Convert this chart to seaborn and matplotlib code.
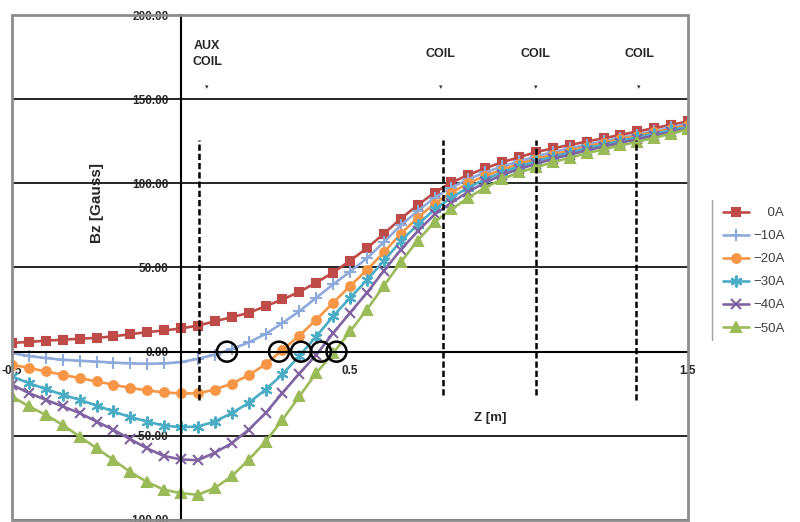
import matplotlib
matplotlib.use("Agg")
import matplotlib.pyplot as plt
from matplotlib.lines import Line2D
from matplotlib.patches import Rectangle
from matplotlib.ticker import FormatStrFormatter
import seaborn as sns

# axial position along the magnet [m]
z_m = [-0.50, -0.45, -0.40, -0.35, -0.30, -0.25, -0.20, -0.15, -0.10, -0.05,
       0.00, 0.05, 0.10, 0.15, 0.20, 0.25, 0.30, 0.35, 0.40, 0.45,
       0.50, 0.55, 0.60, 0.65, 0.70, 0.75, 0.80, 0.85, 0.90, 0.95,
       1.00, 1.05, 1.10, 1.15, 1.20, 1.25, 1.30, 1.35, 1.40, 1.45, 1.50]

# Bz [Gauss] for each aux coil current
bz_0a = [5.2, 5.8, 6.5, 7.1, 7.7, 8.2, 9.1, 10.4, 11.6, 12.6,
         13.8, 15.5, 18.0, 20.5, 23.0, 27.0, 31.0, 35.5, 41.0, 47.0,
         54.0, 61.5, 70.0, 79.0, 87.0, 94.5, 100.5, 105.0, 109.0, 112.5,
         115.5, 118.5, 120.8, 122.8, 124.8, 126.8, 128.8, 130.8, 132.8, 134.8, 136.8]
bz_10a = [-0.8, -2.6, -3.8, -4.8, -5.4, -5.9, -6.5, -7.0, -7.2, -7.0,
          -6.2, -4.2, -1.8, 1.5, 5.5, 10.5, 17.0, 24.0, 32.0, 40.0,
          47.5, 55.5, 65.0, 75.0, 83.5, 91.5, 97.5, 102.5, 106.5, 110.0,
          113.0, 116.0, 118.5, 120.8, 122.9, 125.0, 127.0, 129.0, 131.0, 133.2, 135.5]
bz_20a = [-7.7, -9.7, -11.7, -13.7, -15.7, -17.7, -19.6, -21.6, -23.0, -24.2,
          -24.8, -24.8, -22.5, -19.0, -14.0, -7.5, 1.0, 9.5, 19.0, 29.0,
          39.0, 48.5, 59.0, 70.0, 79.5, 88.0, 94.5, 100.0, 104.5, 108.0,
          111.5, 114.5, 117.0, 119.5, 121.8, 124.0, 126.2, 128.3, 130.3, 132.4, 134.5]
bz_30a = [-14.7, -18.7, -22.2, -25.6, -28.6, -32.0, -35.5, -38.9, -41.5, -44.0,
          -44.8, -44.5, -41.5, -36.5, -30.5, -22.5, -13.5, -2.5, 9.0, 21.0,
          32.0, 42.5, 54.0, 65.5, 75.5, 84.5, 91.5, 97.5, 102.5, 106.5,
          110.0, 113.0, 115.8, 118.3, 120.7, 123.0, 125.2, 127.3, 129.4, 131.5, 133.5]
bz_40a = [-19.6, -24.6, -28.6, -32.5, -36.5, -41.5, -46.4, -52.0, -57.5, -62.0,
          -64.0, -64.5, -60.0, -54.4, -46.4, -36.5, -24.6, -13.0, -2.0, 11.0,
          23.0, 35.0, 48.0, 60.5, 71.5, 81.5, 88.5, 95.0, 100.5, 105.0,
          108.5, 111.5, 114.5, 117.0, 119.5, 121.8, 124.0, 126.2, 128.3, 130.4, 132.5]
bz_50a = [-26.6, -32.5, -37.5, -43.5, -50.4, -57.3, -64.3, -71.5, -77.5, -82.0,
          -84.1, -85.0, -81.0, -74.0, -64.3, -53.4, -40.5, -26.6, -12.7, -1.0,
          12.0, 25.0, 39.0, 53.0, 66.0, 77.0, 84.5, 91.5, 97.5, 102.5,
          106.5, 109.5, 112.5, 115.2, 117.8, 120.2, 122.5, 124.7, 127.0, 129.5, 132.0]

series_labels = ["0A", "\u221210A", "\u221220A", "\u221230A", "\u221240A", "\u221250A"]
series_values = [bz_0a, bz_10a, bz_20a, bz_30a, bz_40a, bz_50a]
colors = ["#BE4B48", "#8EAADB", "#F79646", "#4BACC6", "#8064A2", "#9BBB59"]
markers = ["s", "+", "o", (6, 2, 0), "x", "^"]
marker_sizes = [6.3, 8.5, 6.3, 8.5, 7, 7.5]

# coil positions, labels, zero crossings
coil_z = [0.053, 0.775, 1.05, 1.345]
coil_bottom = [-29, -26, -26, -29]
coil_top = 126
coil_names = ["AUX\nCOIL", "COIL", "COIL", "COIL"]
coil_label_z = [0.077, 0.769, 1.05, 1.355]
zero_z = [0.136, 0.29, 0.355, 0.414, 0.46]

x_ticks = [-0.5, 0.5, 1.5]
y_ticks = [-100, -50, 0, 50, 100, 150, 200]

sns.set_style("white")
plt.rcParams['font.family'] = ['Liberation Sans', 'DejaVu Sans']

fig = plt.figure(figsize=(8, 5.22), dpi=100)
ax = fig.add_axes([12 / 800, 2 / 522, 676 / 800, 505 / 522])

for lab, vals, col, mk, ms in zip(series_labels, series_values, colors, markers, marker_sizes):
    sns.lineplot(x=z_m, y=vals, ax=ax, color=col, marker=mk, markersize=ms,
                 markeredgecolor=col, markeredgewidth=1.5, linewidth=1.9, label=lab)

ax.set_xlim(-0.5, 1.5)
ax.set_ylim(-100, 200)
ax.set_xticks(x_ticks)
ax.set_yticks(y_ticks)
ax.yaxis.set_major_formatter(FormatStrFormatter('%.2f'))
ax.xaxis.set_major_formatter(FormatStrFormatter('%.1f'))

ax.grid(axis='y', color='black', linewidth=1.2)
ax.grid(axis='x', visible=False)

for side in ['left', 'bottom']:
    ax.spines[side].set_position(('data', 0))
    ax.spines[side].set_color('black')
    ax.spines[side].set_linewidth(1.5)
for side in ['top', 'right']:
    ax.spines[side].set_visible(False)
ax.add_patch(Rectangle((0, 0), 1, 1, transform=ax.transAxes, fill=False,
                       edgecolor='#8c8c8c', linewidth=2, clip_on=False, zorder=5))

ax.tick_params(axis='y', length=0, pad=9, labelsize=8.5)
ax.tick_params(axis='x', direction='inout', length=5, width=1, pad=7, labelsize=8.5)
plt.setp(ax.get_yticklabels(), fontweight='bold')
plt.setp(ax.get_xticklabels(), fontweight='bold')

ax.set_ylabel('Bz [Gauss]', fontsize=11, fontweight='bold')
ax.yaxis.set_label_coords(0.136, 0.628)
ax.set_xlabel('Z [m]', fontsize=9.5, fontweight='bold')
ax.xaxis.set_label_coords(0.707, 0.214)

# coil markers
for cz, cb in zip(coil_z, coil_bottom):
    ax.vlines(cz, cb, coil_top, colors='black', linewidth=1.8,
              linestyles=(0, (2.5, 1.2)), zorder=4)
for name, lz in zip(coil_names, coil_label_z):
    ax.text(lz, 177, name, ha='center', va='center', fontsize=9,
            fontweight='bold', linespacing=1.45)
    ax.text(lz, 157, "\u25BE", ha='center', va='center', fontsize=5, color='#333333')

ax.scatter(zero_z, [0] * len(zero_z), s=207, facecolors='none',
           edgecolors='black', linewidths=1.8, zorder=6)

handles, _ = ax.get_legend_handles_labels()
display_labels = ["    " + series_labels[0]] + series_labels[1:]
ax.legend(handles, display_labels, loc='upper left',
          bbox_to_anchor=(723 / 800, 1 - 207 / 522), bbox_transform=fig.transFigure,
          frameon=False, fontsize=9.5, handlelength=2.0, handletextpad=0.3,
          labelspacing=0.82, borderpad=0, borderaxespad=0, labelcolor='#404040')
fig.add_artist(Line2D([712 / 800, 712 / 800], [1 - 200 / 522, 1 - 340 / 522],
                      transform=fig.transFigure, color='#a0a0a0', linewidth=1))

plt.savefig("out.png", dpi=100)
plt.close()
